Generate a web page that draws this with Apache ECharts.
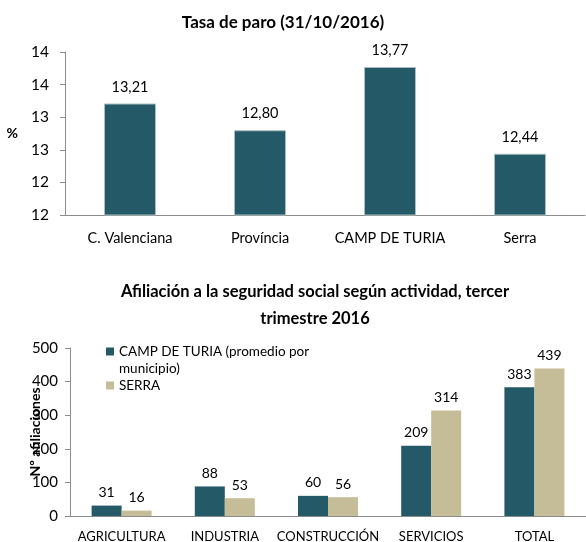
<!DOCTYPE html>
<html>
<head>
<meta charset="utf-8">
<script src="https://cdn.jsdelivr.net/npm/echarts@6/dist/echarts.min.js"></script>
<style>html,body{margin:0;padding:0;background:#fff}#c{width:586px;height:542px}</style>
</head>
<body>
<div id="c"></div>
<script>
const topTitle = 'Tasa de paro (31/10/2016)';
const topCategories = ['C. Valenciana', 'Província', 'CAMP DE TURIA', 'Serra'];
const topValues = [13.21, 12.80, 13.77, 12.44];

const bottomTitle = 'Afiliación a la seguridad social según actividad, tercer\ntrimestre 2016';
const bottomCategories = ['AGRICULTURA', 'INDUSTRIA', 'CONSTRUCCIÓN', 'SERVICIOS', 'TOTAL'];
const seriesNames = ['CAMP DE TURIA (promedio por municipio)', 'SERRA'];
const campValues = [31, 88, 60, 209, 383];
const serraValues = [16, 53, 56, 314, 439];

const FONT = 'Lato';
const TEAL = '#245a67';
const TAN = '#c5bd97';
const AXIS = '#8c8c8c';

const chart = echarts.init(document.getElementById('c'), null, {renderer: 'canvas'});
chart.setOption({
  animation: false,
  textStyle: {fontFamily: FONT, color: '#000'},
  title: [
    {text: topTitle, left: 283, top: 14, textAlign: 'center', padding: 0,
     textStyle: {fontFamily: FONT, fontSize: 17, fontWeight: 'bold', color: '#000'}},
    {text: bottomTitle, left: 315, top: 278, textAlign: 'center', padding: 0,
     textStyle: {fontFamily: FONT, fontSize: 16.5, fontWeight: 'bold', color: '#000', lineHeight: 27}}
  ],
  legend: {
    orient: 'vertical', left: 106, top: 326, padding: 0, itemWidth: 8, itemHeight: 8, itemGap: 0,
    icon: 'rect',
    data: seriesNames,
    formatter: n => n === seriesNames[0] ? ' \nCAMP DE TURIA (promedio por\nmunicipio)' : n,
    textStyle: {fontFamily: FONT, fontSize: 13.5, color: '#000', lineHeight: 17}
  },
  grid: [
    {left: 65, top: 52, width: 520, height: 163, outerBoundsMode: 'none', containLabel: false},
    {left: 70, top: 348, width: 516, height: 168, outerBoundsMode: 'none', containLabel: false}
  ],
  xAxis: [
    {type: 'category', gridIndex: 0, data: topCategories,
     axisLine: {lineStyle: {color: AXIS}}, axisTick: {length: 5, lineStyle: {color: AXIS}},
     axisLabel: {fontFamily: FONT, fontSize: 14.5, color: '#000', margin: 16, interval: 0}},
    {type: 'category', gridIndex: 1, data: bottomCategories,
     axisLine: {lineStyle: {color: AXIS}}, axisTick: {length: 5, lineStyle: {color: AXIS}},
     axisLabel: {fontFamily: FONT, fontSize: 13, color: '#000', margin: 14, interval: 0}}
  ],
  yAxis: [
    {type: 'value', gridIndex: 0, min: 11.5, max: 14, interval: 0.5,
     name: '%', nameLocation: 'middle', nameRotate: 0, nameGap: 47, nameMoveOverlap: false,
     nameTextStyle: {fontFamily: FONT, fontSize: 14, fontWeight: 'bold', color: '#000'},
     axisLine: {show: true, lineStyle: {color: AXIS}}, axisTick: {show: true, length: 5, lineStyle: {color: AXIS}},
     splitLine: {show: false},
     axisLabel: {fontFamily: FONT, fontSize: 15.5, color: '#000', margin: 16, formatter: v => String(Math.round(v))}},
    {type: 'value', gridIndex: 1, min: 0, max: 500, interval: 100,
     name: 'Nº afiliaciones', nameLocation: 'middle', nameGap: 28, nameMoveOverlap: false,
     nameTextStyle: {fontFamily: FONT, fontSize: 14, fontWeight: 'bold', color: '#000'},
     axisLine: {show: true, lineStyle: {color: AXIS}}, axisTick: {show: true, length: 5, lineStyle: {color: AXIS}},
     splitLine: {show: false},
     axisLabel: {fontFamily: FONT, fontSize: 15, color: '#000', margin: 12}}
  ],
  series: [
    {type: 'bar', xAxisIndex: 0, yAxisIndex: 0, data: topValues, barWidth: 52,
     itemStyle: {color: TEAL, borderColor: '#a8bec3', borderWidth: 1},
     label: {show: true, position: 'top', distance: 9, fontFamily: FONT, fontSize: 14.5, color: '#000',
             formatter: p => p.value.toFixed(2).replace('.', ',')}},
    {type: 'bar', name: seriesNames[0], xAxisIndex: 1, yAxisIndex: 1, data: campValues,
     barWidth: 30, barGap: '0%',
     itemStyle: {color: TEAL},
     label: {show: true, position: 'top', distance: 6, fontFamily: FONT, fontSize: 14, color: '#000'}},
    {type: 'bar', name: seriesNames[1], xAxisIndex: 1, yAxisIndex: 1, data: serraValues,
     barWidth: 30, barGap: '0%',
     itemStyle: {color: TAN},
     label: {show: true, position: 'top', distance: 6, fontFamily: FONT, fontSize: 14, color: '#000'}}
  ]
});
</script>
</body>
</html>
